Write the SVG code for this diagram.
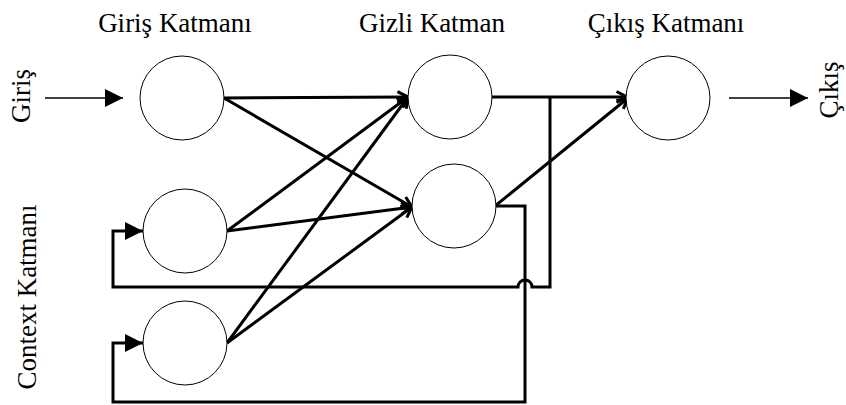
<svg xmlns="http://www.w3.org/2000/svg" width="846" height="405" viewBox="0 0 846 405">
<style>
.node{fill:#fff;stroke:#000;stroke-width:1}
.lbl{font-family:"Liberation Serif","Times New Roman",serif;font-size:27px;fill:#000}
.thick{fill:none;stroke:#000;stroke-width:3}
.thin{fill:none;stroke:#000;stroke-width:1.5}
</style>
<defs>
<marker id="open" viewBox="0 0 14 14" refX="12.5" refY="7" markerWidth="14" markerHeight="14" markerUnits="userSpaceOnUse" orient="auto">
<path d="M2,1.5 L12.5,7 L2,12.5" fill="none" stroke="#000" stroke-width="3"/>
</marker>
<marker id="solid" viewBox="0 0 18 18" refX="18" refY="9" markerWidth="18" markerHeight="18" markerUnits="userSpaceOnUse" orient="auto">
<path d="M0,0 L18,9 L0,18 Z" fill="#000"/>
</marker>
</defs>
<rect width="846" height="405" fill="#fff"/>
<g id="labels">
<text class="lbl" x="175" y="32" text-anchor="middle">Giriş Katmanı</text>
<text class="lbl" x="432" y="32" text-anchor="middle">Gizli Katman</text>
<text class="lbl" x="666" y="32" text-anchor="middle">Çıkış Katmanı</text>
<text class="lbl" transform="translate(30,96) rotate(-90)" text-anchor="middle">Giriş</text>
<text class="lbl" transform="translate(838,90) rotate(-90)" text-anchor="middle">Çıkış</text>
<text class="lbl" transform="translate(36,297) rotate(-90)" text-anchor="middle">Context Katmanı</text>
</g>
<g id="connectors">
<line class="thin" x1="45" y1="98" x2="123" y2="98" marker-end="url(#solid)"/>
<line class="thin" x1="729" y1="98" x2="808" y2="98" marker-end="url(#solid)"/>
<line class="thick" x1="224" y1="98" x2="408" y2="97" marker-end="url(#open)"/>
<line class="thick" x1="224" y1="98" x2="412" y2="207" marker-end="url(#open)"/>
<line class="thick" x1="227" y1="231" x2="408" y2="97" marker-end="url(#open)"/>
<line class="thick" x1="227" y1="231" x2="412" y2="207" marker-end="url(#open)"/>
<line class="thick" x1="227" y1="343" x2="408" y2="97" marker-end="url(#open)"/>
<line class="thick" x1="227" y1="343" x2="412" y2="207" marker-end="url(#open)"/>
<line class="thick" x1="491" y1="97" x2="627" y2="97" marker-end="url(#open)"/>
<line class="thick" x1="495" y1="206" x2="628" y2="98" marker-end="url(#open)"/>
<path class="thick" d="M550,97 L550,287 L532,287 A7,7 0 0 0 518,287 L113,287 L113,231 L143,231" marker-end="url(#solid)"/>
<path class="thick" d="M495,206 L525,206 L525,402 L113,402 L113,343 L143,343" marker-end="url(#solid)"/>
</g>
<g id="input"><circle class="node" cx="182" cy="98" r="42"/></g>
<g id="context1"><circle class="node" cx="185" cy="231" r="42"/></g>
<g id="context2"><circle class="node" cx="185" cy="343" r="42"/></g>
<g id="hidden1"><circle class="node" cx="450" cy="97" r="42"/></g>
<g id="hidden2"><circle class="node" cx="454" cy="206" r="42"/></g>
<g id="output"><circle class="node" cx="668" cy="98" r="42"/></g>
</svg>
